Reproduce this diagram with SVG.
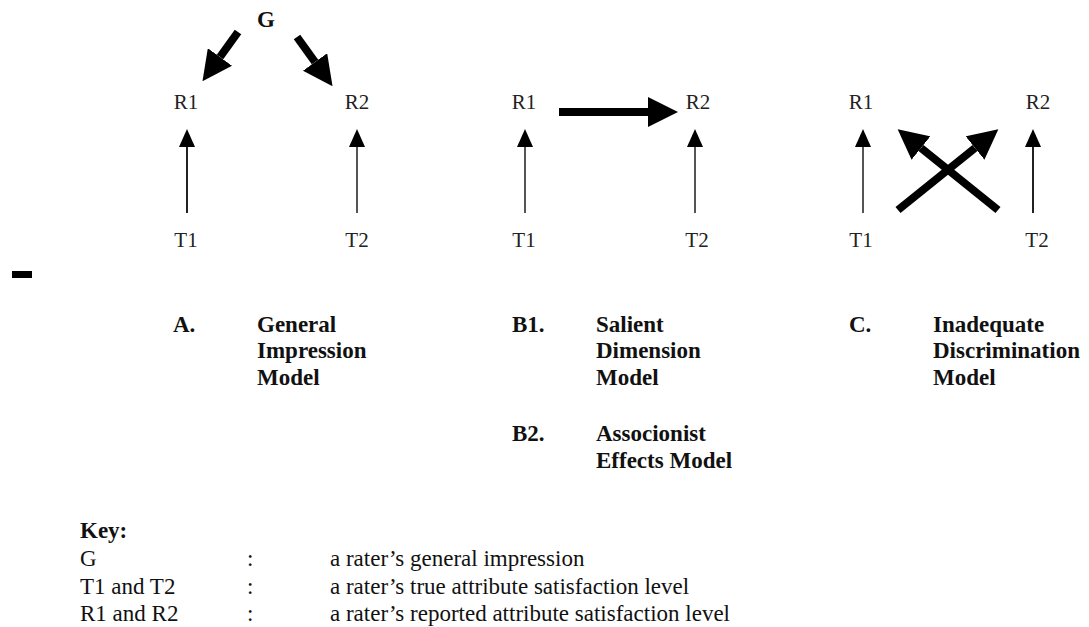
<svg xmlns="http://www.w3.org/2000/svg" width="1089" height="627" viewBox="0 0 1089 627">
<style>
.lbl{font-family:"Liberation Serif","Times New Roman",serif;font-size:21px;fill:#222;text-anchor:middle}
.b{font-family:"Liberation Serif","Times New Roman",serif;font-size:23px;font-weight:bold;fill:#111}
.k{font-family:"Liberation Serif","Times New Roman",serif;font-size:23px;fill:#111}
.thin{stroke:#222;stroke-width:2;fill:none;marker-end:url(#th)}
.grey{stroke:#555}
.thick{stroke:#000;stroke-width:8;fill:none;marker-end:url(#tk)}
</style>
<defs>
<marker id="th" markerUnits="userSpaceOnUse" markerWidth="18" markerHeight="16" refX="0" refY="8" orient="auto"><path d="M0,0 L18,8 L0,16 z" fill="#000"/></marker>
<marker id="tk" markerUnits="userSpaceOnUse" markerWidth="30" markerHeight="30" refX="0" refY="15" orient="auto"><path d="M0,0 L30,15 L0,30 z" fill="#000"/></marker>
</defs>
<rect width="1089" height="627" fill="#fff"/>
<g id="connectors">
<line class="thin" x1="187" y1="213" x2="187" y2="147"/>
<line class="thin grey" x1="357" y1="213" x2="357" y2="147"/>
<line class="thin grey" x1="525" y1="213" x2="525" y2="147"/>
<line class="thin grey" x1="695" y1="213" x2="695" y2="147"/>
<line class="thin grey" x1="863" y1="213" x2="863" y2="147"/>
<line class="thin" x1="1033" y1="213" x2="1033" y2="147"/>
<line class="thick" x1="238" y1="32" x2="220" y2="57"/>
<line class="thick" x1="297" y1="37" x2="315" y2="62"/>
<line class="thick" x1="559" y1="112" x2="648" y2="112"/>
<line class="thick" x1="898" y1="210" x2="975" y2="148"/>
<line class="thick" x1="998" y1="210" x2="921" y2="148"/>
</g>
<g id="nodeG"><text class="b" x="266" y="27" text-anchor="middle">G</text></g>
<g id="nodeA_R1"><text class="lbl" x="186" y="109">R1</text></g>
<g id="nodeA_R2"><text class="lbl" x="357" y="109">R2</text></g>
<g id="nodeA_T1"><text class="lbl" x="186" y="247">T1</text></g>
<g id="nodeA_T2"><text class="lbl" x="357" y="247">T2</text></g>
<g id="nodeB_R1"><text class="lbl" x="524" y="109">R1</text></g>
<g id="nodeB_R2"><text class="lbl" x="698" y="109">R2</text></g>
<g id="nodeB_T1"><text class="lbl" x="524" y="247">T1</text></g>
<g id="nodeB_T2"><text class="lbl" x="697" y="247">T2</text></g>
<g id="nodeC_R1"><text class="lbl" x="861" y="109">R1</text></g>
<g id="nodeC_R2"><text class="lbl" x="1038" y="109">R2</text></g>
<g id="nodeC_T1"><text class="lbl" x="861" y="247">T1</text></g>
<g id="nodeC_T2"><text class="lbl" x="1037" y="247">T2</text></g>
<rect x="12" y="271" width="20" height="7" fill="#000"/>
<g id="captionA">
<text class="b" x="173" y="332">A.</text>
<text class="b" x="257" y="332">General</text>
<text class="b" x="257" y="358">Impression</text>
<text class="b" x="257" y="385">Model</text>
</g>
<g id="captionB">
<text class="b" x="512" y="332">B1.</text>
<text class="b" x="596" y="332">Salient</text>
<text class="b" x="596" y="358">Dimension</text>
<text class="b" x="596" y="385">Model</text>
<text class="b" x="512" y="441">B2.</text>
<text class="b" x="596" y="441">Associonist</text>
<text class="b" x="596" y="468">Effects Model</text>
</g>
<g id="captionC">
<text class="b" x="849" y="332">C.</text>
<text class="b" x="933" y="332">Inadequate</text>
<text class="b" x="933" y="358">Discrimination</text>
<text class="b" x="933" y="385">Model</text>
</g>
<g id="key">
<text class="k" x="80" y="538" font-weight="bold">Key:</text>
<text class="k" x="80" y="566">G</text>
<text class="k" x="247" y="566">:</text>
<text class="k" x="330" y="566">a rater’s general impression</text>
<text class="k" x="80" y="594">T1 and T2</text>
<text class="k" x="247" y="594">:</text>
<text class="k" x="330" y="594">a rater’s true attribute satisfaction level</text>
<text class="k" x="80" y="621">R1 and R2</text>
<text class="k" x="247" y="621">:</text>
<text class="k" x="330" y="621">a rater’s reported attribute satisfaction level</text>
</g>
</svg>
